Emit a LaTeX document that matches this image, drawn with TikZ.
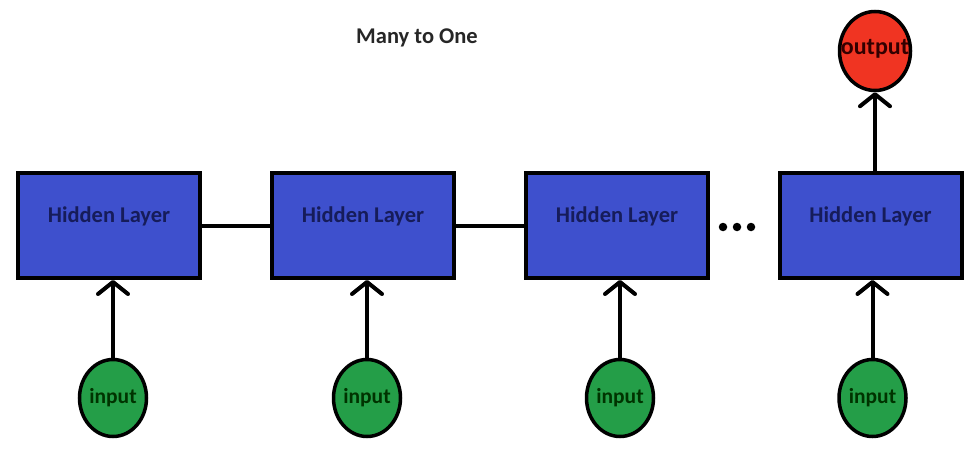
\documentclass[tikz,border=0pt]{standalone}
\usepackage{fontspec}
\setmainfont{Carlito}
\usetikzlibrary{arrows.meta,shapes.geometric}
\definecolor{hblue}{RGB}{62,80,205}
\definecolor{hnavy}{RGB}{22,28,90}
\definecolor{igreen}{RGB}{36,158,72}
\definecolor{ored}{RGB}{240,52,34}
\tikzset{
  hidden/.style={draw=black,line width=4pt,fill=hblue,minimum width=182pt,minimum height=105pt,inner sep=0pt},
  hlabel/.style={text=hnavy,font=\bfseries\fontsize{22.5}{26}\selectfont},
  inp/.style={ellipse,draw=black,line width=3.5pt,fill=igreen,minimum width=67pt,minimum height=77pt,inner sep=0pt,text=black!80!green,font=\bfseries\fontsize{21.5}{24}\selectfont},
  outp/.style={ellipse,draw=black,line width=3.5pt,fill=ored,minimum width=71pt,minimum height=79pt,inner sep=0pt},
  olabel/.style={text=black!80!red,font=\bfseries\fontsize{24}{26}\selectfont},
  link/.style={line width=4pt},
  dot/.style={circle,fill=black,inner sep=0pt,minimum size=8.5pt},
  uparrow/.style={line width=4pt,-{Straight Barb[length=12pt,width=30pt,line width=4pt,round]}},
}
\begin{document}
\begin{tikzpicture}[x=1pt,y=-1pt]
\useasboundingbox (0,0) rectangle (980,460);
\node[font=\bfseries\fontsize{22.5}{26}\selectfont,text=black!85] (title) at (417,38) {Many to One};
\node[hidden] (h1) at (109,225.5) {};
\node[hidden] (h2) at (363,225.5) {};
\node[hidden] (h3) at (617,225.5) {};
\node[hidden] (h4) at (870.5,225.5) {};
\foreach \i/\x in {1/109,2/363,3/617,4/870.5}{
  \node[hlabel] (t\i) at (\x,216) {Hidden Layer};
}
\node[inp] (i1) at (113,398) {input};
\node[inp] (i2) at (367,398) {input};
\node[inp] (i3) at (620,398) {input};
\node[inp] (i4) at (872.5,398) {input};
\node[outp] (o) at (875,51) {};
\node[olabel] (ot) at (875,49) {output};
\node[dot] (d1) at (723,227) {};
\node[dot] (d2) at (737,227) {};
\node[dot] (d3) at (751,227) {};
\draw[link] (h1.east) -- (h2.west);
\draw[link] (h2.east) -- (h3.west);
\foreach \i in {1,2,3,4}{
  \draw[uparrow] (i\i.north) -- (i\i.north |- h\i.south);
}
\draw[uparrow] (o.south |- h4.north) -- (o.south);
\end{tikzpicture}
\end{document}
